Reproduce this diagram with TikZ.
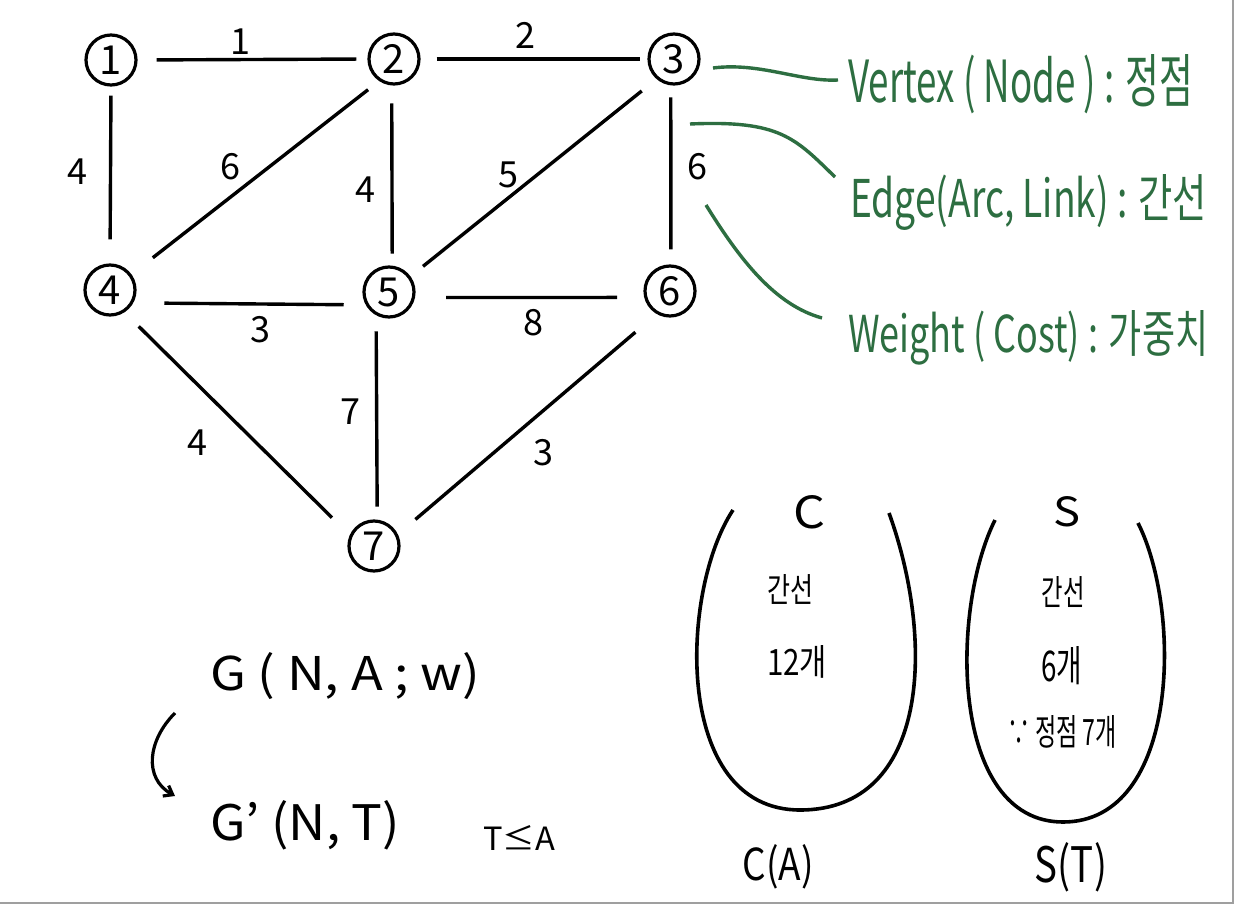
\documentclass[tikz,border=0pt]{standalone}
\usepackage{fontspec}
\setmainfont{Noto Sans CJK KR}
\usetikzlibrary{arrows.meta}
\definecolor{note}{RGB}{45,110,65}
\newcommand{\tb}[3]{\resizebox{#1}{#2}{#3}}
\tikzset{
  vert/.style={circle, draw, line width=3.2pt, minimum size=50pt, inner sep=0pt, font=\fontsize{40}{40}\selectfont},
  edgeline/.style={line width=3.4pt},
  wlabel/.style={font=\fontsize{36}{36}\selectfont, inner sep=0pt},
  notecurve/.style={draw=note, line width=3.4pt},
  ushape/.style={line width=3.6pt},
  txt/.style={inner sep=0pt},
}
\begin{document}
\begin{tikzpicture}[x=1pt,y=-1pt]
\useasboundingbox (0,0) rectangle (1234,904);
\fill[white] (0,0) rectangle (1234,904);
\draw[gray!75, line width=1.5pt] (0,903) -- (1233,903) -- (1233,0);

% vertices
\node[vert] (n1) at (111,60) {1};
\node[vert] (n2) at (394,59) {2};
\node[vert] (n3) at (674,59) {3};
\node[vert] (n4) at (110,290) {4};
\node[vert] (n5) at (389,292) {5};
\node[vert] (n6) at (670,291) {6};
\node[vert] (n7) at (374,546) {7};

% edges
\draw[edgeline, shorten <=19pt, shorten >=11pt] (n1.east) -- (n2.west);
\draw[edgeline, shorten <=16pt, shorten >=7pt] (n2.east) -- (n3.west);
\draw[edgeline, shorten <=9pt, shorten >=24pt] (n1.south) -- (n4.north);
\draw[edgeline, shorten <=14pt, shorten >=27pt] (n2.-124) -- (n4.36);
\draw[edgeline, shorten <=18pt, shorten >=12pt] (n2.-95) -- (n5.83);
\draw[edgeline, shorten <=19pt, shorten >=16pt] (n3.-131) -- (n5.36);
\draw[edgeline, shorten <=12pt, shorten >=15pt] (n3.-97) -- (n6.88);
\draw[edgeline, shorten <=31pt, shorten >=22pt] (n4.-29) -- (n5.-151);
\draw[edgeline, shorten <=31pt, shorten >=27pt] (n5.-12) -- (n6.-166);
\draw[edgeline, shorten <=20pt, shorten >=25pt] (n4.-57) -- (n7.156);
\draw[edgeline, shorten <=16pt, shorten >=13pt] (n5.-119) -- (n7.83);
\draw[edgeline, shorten <=28pt, shorten >=23pt] (n6.-120) -- (n7.26);

% weights
\node[wlabel] (w12) at (240,42) {1};
\node[wlabel] (w23) at (525,35) {2};
\node[wlabel] (w14) at (77,172) {4};
\node[wlabel] (w24) at (230,167) {6};
\node[wlabel] (w25) at (365,190) {4};
\node[wlabel] (w35) at (508,175) {5};
\node[wlabel] (w36) at (697,167) {6};
\node[wlabel] (w45) at (260,330) {3};
\node[wlabel] (w56) at (533,323) {8};
\node[wlabel] (w57) at (350,412) {7};
\node[wlabel] (w47) at (197,443) {4};
\node[wlabel] (w67) at (543,453) {3};

% green annotations
\node[txt, note, anchor=base west] (tv) at (848,103) {\tb{345pt}{48pt}{Vertex ( Node ) : 정점}};
\node[txt, note, anchor=base west] (te) at (850,217) {\tb{357pt}{43pt}{Edge(Arc, Link) : 간선}};
\node[txt, note, anchor=base west] (tw) at (848,352) {\tb{360pt}{42pt}{Weight ( Cost) : 가중치}};
\coordinate (v0) at (713,68);
\coordinate (v1) at (838,80);
\coordinate (e0) at (690,124);
\coordinate (e1) at (835,177);
\coordinate (g0) at (706,205);
\coordinate (g1) at (822,318);
\draw[notecurve] (v0) .. controls (760,62) and (800,82) .. (v1);
\draw[notecurve] (e0) .. controls (780,120) and (795,138) .. (e1);
\draw[notecurve] (g0) .. controls (740,260) and (775,305) .. (g1);

% bottom left
\node[txt, anchor=base west] (g) at (210,690) {\tb{270pt}{38pt}{G ( N, A ; w)}};
\node[txt, anchor=base west] (gp) at (210,840) {\tb{190pt}{40pt}{G' (N, T)}};
\node[txt, anchor=base west] (tsub) at (483,850) {\tb{72pt}{25pt}{T≤A}};
\coordinate (arrS) at (175,713);
\coordinate (arrE) at (175,796);
\draw[line width=3.2pt, -{Straight Barb[length=8pt,width=12pt]}] (arrS) .. controls (148,740) and (143,778) .. (arrE);

% U shapes
\draw[ushape] (733,510) .. controls (680,590) and (672,810) .. (800,810)
  .. controls (930,810) and (935,640) .. (889,513);
\draw[ushape] (995,520) .. controls (950,610) and (950,822) .. (1063,822)
  .. controls (1180,822) and (1182,610) .. (1138,523);

\node[txt] (cC) at (809,512) {\tb{32pt}{33pt}{C}};
\node[txt] (cE) at (790,589) {\tb{46pt}{28pt}{간선}};
\node[txt] (cN) at (797,662) {\tb{60pt}{30pt}{12개}};
\node[txt] (cA) at (778,867) {\tb{71pt}{36pt}{C(A)}};
\node[txt] (sS) at (1067,512) {\tb{27pt}{30pt}{S}};
\node[txt] (sE) at (1063,592) {\tb{43pt}{29pt}{간선}};
\node[txt] (sN) at (1062,666) {\tb{41pt}{35pt}{6개}};
\node[txt] (sV) at (1062,732) {\tb{110pt}{30pt}{∵ 정점 7개}};
\node[txt] (sT) at (1071,867) {\tb{72pt}{40pt}{S(T)}};
\end{tikzpicture}
\end{document}
